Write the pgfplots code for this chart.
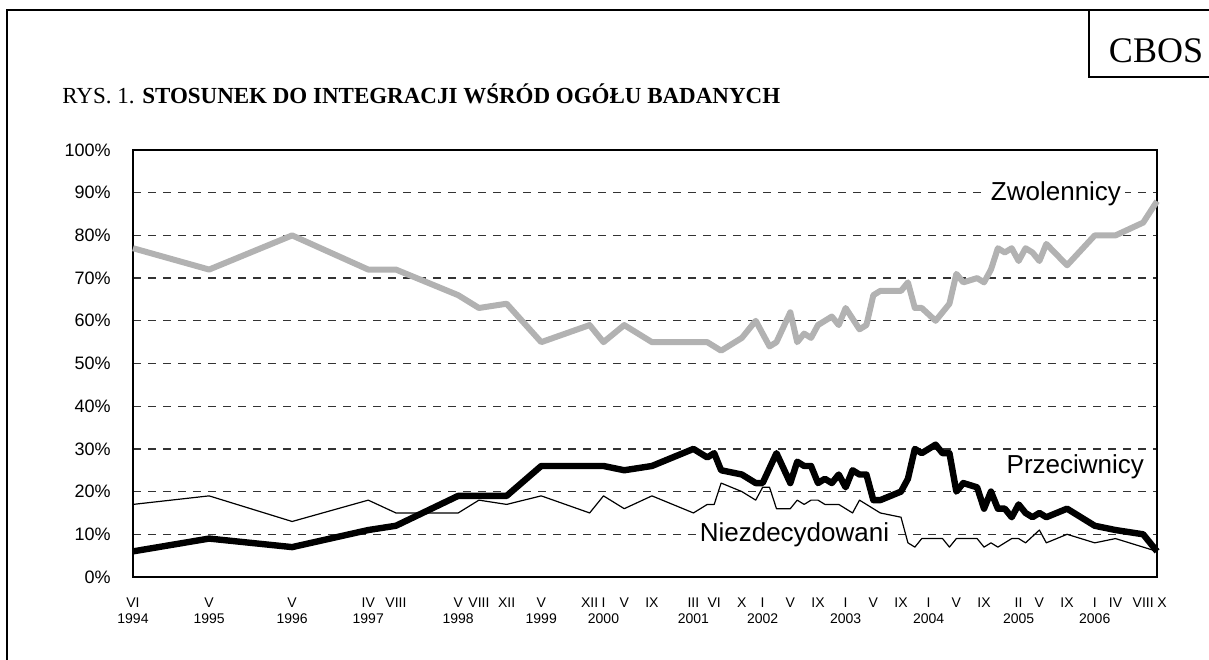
\documentclass[border=0pt]{standalone}
\usepackage{fontspec}
\setmainfont{Liberation Sans}
\newfontfamily\timesfont{Liberation Serif}
\usepackage{pgfplots}
\pgfplotsset{compat=1.18}
\definecolor{zgray}{RGB}{178,178,178}
\begin{document}
\begin{tikzpicture}
\path[use as bounding box] (0pt,0pt) rectangle (604.5pt,329.5pt);
\draw[line width=1.2pt] (3.5pt,-5pt) -- (3.5pt,324.5pt) -- (610pt,324.5pt);
\draw[line width=1.2pt] (544.5pt,324.5pt) -- (544.5pt,291pt) -- (610pt,291pt);
\node[font=\timesfont\fontsize{18}{20}\selectfont] at (578pt,304pt) {CBOS};
\node[anchor=base west, inner sep=0pt, font=\timesfont\fontsize{11.5}{13}\selectfont] at (31pt,277.5pt) {RYS. 1. \textbf{STOSUNEK DO INTEGRACJI WŚRÓD OGÓŁU BADANYCH}};
\begin{axis}[
  at={(66.5pt,41pt)}, anchor=south west,
  scale only axis, width=512pt, height=213.5pt,
  xmin=0, xmax=148, ymin=0, ymax=100,
  clip=false,
  axis line style={line width=0.8pt},
  major tick length=0pt,
  ytick={0,10,20,30,40,50,60,70,80,90,100},
  yticklabels={0\%,10\%,20\%,30\%,40\%,50\%,60\%,70\%,80\%,90\%,100\%},
  yticklabel style={font=\fontsize{9}{10}\selectfont, anchor=east, inner sep=0pt, xshift=-11pt},
  ymajorgrids=true,
  major grid style={dash pattern=on 4pt off 3.5pt, black!80, line width=0.6pt},
  xtick={0,11,23,34,38,47,50,54,59,66,68,71,75,81,84,88,91,95,99,103,107,111,115,119,123,128,131,135,139,142,146,148},
  xticklabels={{VI\\1994},{V\\1995},{V\\1996},{IV\\1997},{VIII},{V\\1998},{VIII},{XII},{V\\1999},{XII},{I\\2000},{V},{IX},{III\\2001},{VI},{X},{I\\2002},{V},{IX},{I\\2003},{V},{IX},{I\\2004},{V},{IX},{II\\2005},{V},{IX},{I\\2006},{IV},{VIII},{\hspace*{5pt}X}},
  xticklabel style={font=\fontsize{7}{8}\selectfont, align=center, anchor=north, inner sep=0pt, yshift=-10pt},
]
% Zwolennicy
\addplot[zgray, line width=3pt, line join=round] coordinates {
(0,77)(11,72)(23,80)(34,72)(38,72)(47,66)(50,63)(54,64)(59,55)(66,59)(68,55)(71,59)(75,55)(81,55)(83,55)(85,53)(88,56)(90,60)(92,54)(93,55)(95,62)(96,55)(97,57)(98,56)(99,59)(101,61)(102,59)(103,63)(105,58)(106,59)(107,66)(108,67)(111,67)(112,69)(113,63)(114,63)(116,60)(118,64)(119,71)(120,69)(122,70)(123,69)(124,72)(125,77)(126,76)(127,77)(128,74)(129,77)(130,76)(131,74)(132,78)(135,73)(139,80)(142,80)(146,83)(148,88)
};
% Przeciwnicy
\addplot[black, line width=3.2pt, line join=round] coordinates {
(0,6)(11,9)(23,7)(34,11)(38,12)(47,19)(50,19)(54,19)(59,26)(66,26)(68,26)(71,25)(75,26)(81,30)(83,28)(84,29)(85,25)(88,24)(90,22)(91,22)(93,29)(95,22)(96,27)(97,26)(98,26)(99,22)(100,23)(101,22)(102,24)(103,21)(104,25)(105,24)(106,24)(107,18)(108,18)(111,20)(112,23)(113,30)(114,29)(116,31)(117,29)(118,29)(119,20)(120,22)(122,21)(123,16)(124,20)(125,16)(126,16)(127,14)(128,17)(129,15)(130,14)(131,15)(132,14)(135,16)(139,12)(142,11)(146,10)(148,6)
};
% Niezdecydowani
\addplot[black, line width=0.6pt, line join=round] coordinates {
(0,17)(11,19)(23,13)(34,18)(38,15)(47,15)(50,18)(54,17)(59,19)(66,15)(68,19)(71,16)(75,19)(81,15)(83,17)(84,17)(85,22)(88,20)(90,18)(91,21)(92,21)(93,16)(95,16)(96,18)(97,17)(98,18)(99,18)(100,17)(102,17)(104,15)(105,18)(108,15)(111,14)(112,8)(113,7)(114,9)(117,9)(118,7)(119,9)(122,9)(123,7)(124,8)(125,7)(127,9)(128,9)(129,8)(131,11)(132,8)(135,10)(139,8)(142,9)(148,6)
};
\node[anchor=base, fill=white, inner xsep=2pt, inner ysep=1pt, font=\fontsize{13}{15}\selectfont] at (axis cs:133.4,88.1) {Zwolennicy};
\node[anchor=base, inner sep=1pt, font=\fontsize{13}{15}\selectfont] at (axis cs:136.2,24.2) {Przeciwnicy};
\node[anchor=base, fill=white, inner xsep=2pt, inner ysep=1pt, font=\fontsize{13}{15}\selectfont] at (axis cs:95.6,8.3) {Niezdecydowani};
\end{axis}
\end{tikzpicture}
\end{document}
